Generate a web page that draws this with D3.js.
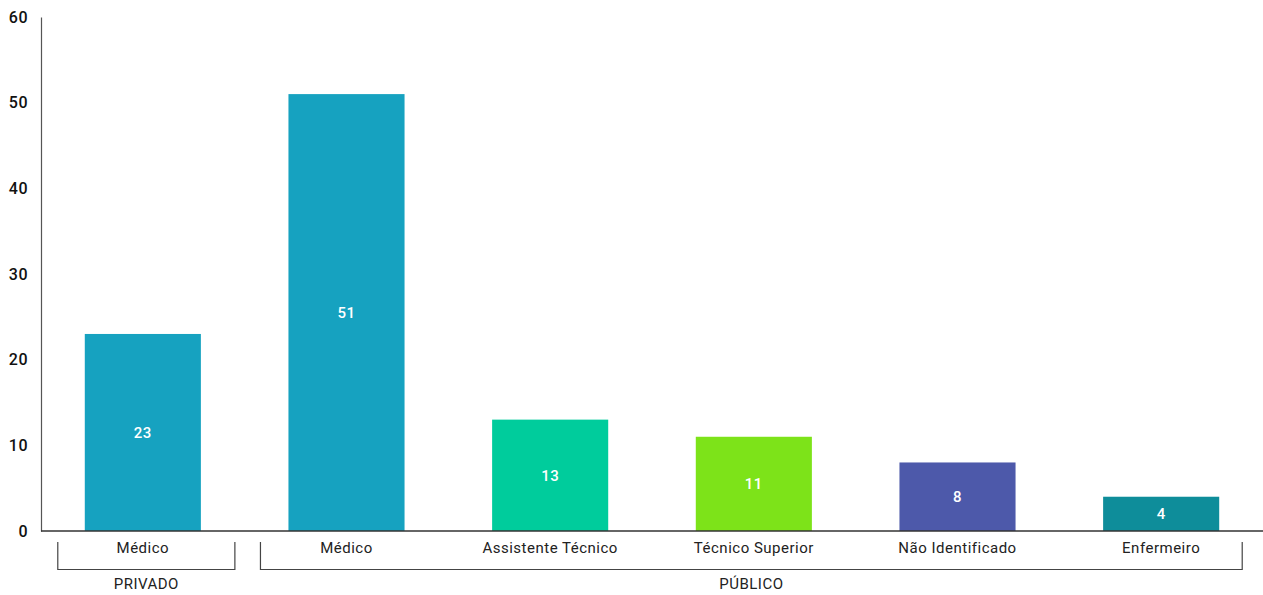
<!DOCTYPE html>
<html>
<head>
<meta charset="utf-8">
<script src="https://cdn.jsdelivr.net/npm/d3@7"></script>
<style>
  html, body { margin: 0; padding: 0; background: #fff; }
  svg { display: block; font-family: Roboto, "DejaVu Sans", sans-serif; }
</style>
</head>
<body>
<svg id="chart" width="1263" height="595"></svg>
<script>
// Professions, grouped by sector
const categories = ["Médico", "Médico", "Assistente Técnico", "Técnico Superior", "Não Identificado", "Enfermeiro"];
const values = [23, 51, 13, 11, 8, 4];
const colors = ["#16a2c0", "#16a2c0", "#00cc9c", "#7de319", "#4d59aa", "#0e8d9a"];
const groups = [
  { name: "PRIVADO", from: 0, to: 0 },
  { name: "PÚBLICO", from: 1, to: 5 }
];
const yTicks = [0, 10, 20, 30, 40, 50, 60];

const svg = d3.select("#chart");
const plotLeft = 41, plotRight = 1263, plotTop = 17, plotBottom = 531;

const x = d3.scaleBand()
  .domain(d3.range(categories.length))
  .range([plotLeft, plotRight])
  .paddingInner(0.43)
  .paddingOuter(0.215);

const y = d3.scaleLinear().domain([0, 60]).range([plotBottom, plotTop]);

// Bars
svg.append("g").selectAll("rect")
  .data(values)
  .join("rect")
  .attr("x", (d, i) => x(i))
  .attr("y", d => y(d))
  .attr("width", x.bandwidth())
  .attr("height", d => y(0) - y(d))
  .attr("fill", (d, i) => colors[i]);

// Value labels inside bars
svg.append("g").selectAll("text")
  .data(values)
  .join("text")
  .attr("x", (d, i) => x(i) + x.bandwidth() / 2)
  .attr("y", d => (y(d) + y(0)) / 2)
  .attr("dy", "0.35em")
  .attr("text-anchor", "middle")
  .attr("fill", "#fff")
  .attr("font-size", 15)
  .attr("font-weight", 500)
  .attr("letter-spacing", 0.5)
  .text(d => d);

// Y axis
const yAxis = d3.axisLeft(y).tickValues(yTicks).tickSize(0).tickPadding(13);
const gy = svg.append("g").attr("transform", `translate(${plotLeft},0)`).call(yAxis);
gy.select(".domain").attr("stroke", "#555").attr("stroke-width", 1.2);
gy.selectAll("text")
  .attr("font-size", 16)
  .attr("font-weight", 500)
  .attr("letter-spacing", 0.5)
  .attr("fill", "#111")
  .attr("font-family", "Roboto, sans-serif");

// X axis baseline
svg.append("line")
  .attr("x1", plotLeft).attr("x2", plotRight)
  .attr("y1", y(0)).attr("y2", y(0))
  .attr("stroke", "#333").attr("stroke-width", 1.5);

// Category labels
svg.append("g").selectAll("text")
  .data(categories)
  .join("text")
  .attr("x", (d, i) => x(i) + x.bandwidth() / 2)
  .attr("y", 553)
  .attr("text-anchor", "middle")
  .attr("font-size", 15)
  .attr("letter-spacing", 0.5)
  .attr("fill", "#222")
  .text(d => d);

// Group brackets
const insetLeft = [27, 28];
const insetRight = [34, 23];
const gGroups = svg.append("g");
groups.forEach((g, gi) => {
  const x0 = x(g.from) - insetLeft[gi];
  const x1 = x(g.to) + x.bandwidth() + insetRight[gi];
  gGroups.append("path")
    .attr("d", `M${x0},542V569.5H${x1}V542`)
    .attr("fill", "none")
    .attr("stroke", "#444")
    .attr("stroke-width", 1.2);
  gGroups.append("text")
    .attr("x", (x0 + x1) / 2)
    .attr("y", 589)
    .attr("text-anchor", "middle")
    .attr("font-size", 15)
    .attr("letter-spacing", 0.5)
    .attr("fill", "#222")
    .text(g.name);
});
</script>
</body>
</html>
